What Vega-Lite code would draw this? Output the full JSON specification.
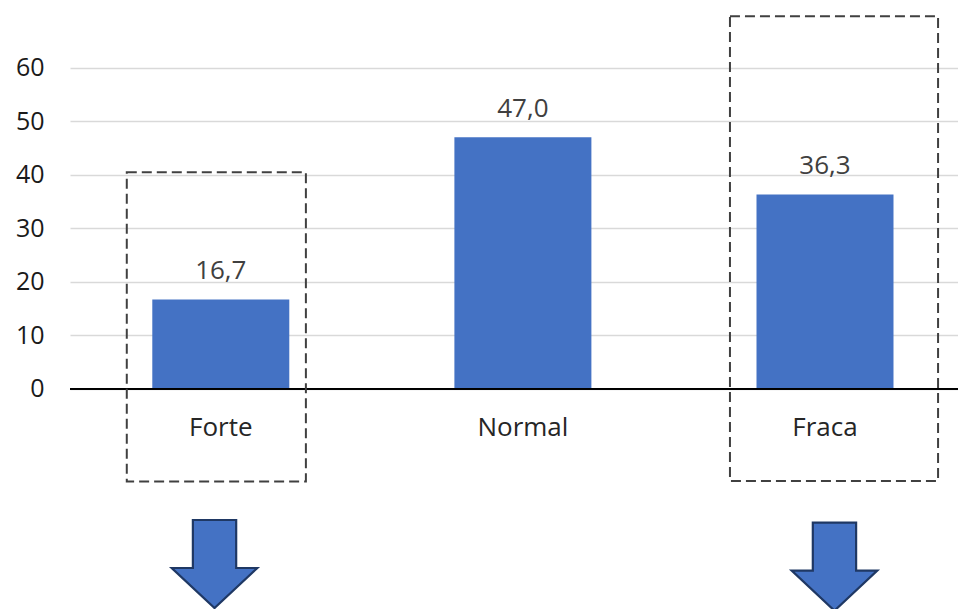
{
  "$schema": "https://vega.github.io/schema/vega-lite/v6.json",
  "width": 888,
  "height": 589,
  "padding": {"left": 70, "top": 14, "right": 0, "bottom": 6},
  "autosize": {"type": "none"},
  "background": "white",
  "config": {
    "view": {"stroke": null},
    "font": "Open Sans",
    "locale": {"number": {"decimal": ",", "thousands": ".", "grouping": [3], "currency": ["", " €"]}}
  },
  "datasets": {
    "bars": [
      {"cat": "Forte", "value": 16.7},
      {"cat": "Normal", "value": 47.0},
      {"cat": "Fraca", "value": 36.3}
    ],
    "boxes": [
      {"x1": -0.312, "x2": 0.281, "y1": -17.3, "y2": 40.43},
      {"x1": 1.685, "x2": 2.374, "y1": -17.2, "y2": 69.6}
    ],
    "arrows": [
      {"ax": -0.0215, "ay": -32.72},
      {"ax": 2.031, "ay": -33.22}
    ]
  },
  "resolve": {"scale": {"x": "independent"}},
  "layer": [
    {
      "data": {"name": "bars"},
      "layer": [
        {
          "mark": {"type": "bar", "color": "#4472C4"},
          "encoding": {
            "x": {"field": "cat", "type": "nominal", "sort": null, "axis": null,
                  "scale": {"paddingInner": 0.5465, "paddingOuter": 0.24295, "align": 0.5606, "round": false}},
            "y": {"field": "value", "type": "quantitative",
                  "scale": {"domain": [-40, 70], "nice": false, "zero": false},
                  "axis": {"values": [0, 10, 20, 30, 40, 50, 60], "domain": false, "ticks": false,
                           "labelPadding": 26, "labelFontSize": 25, "labelColor": "#1a1a1a",
                           "labelFont": "Open Sans", "grid": true, "gridColor": "#D9D9D9",
                           "gridWidth": 1.5, "title": null}}
          }
        },
        {
          "mark": {"type": "text", "baseline": "middle", "dy": -28, "fontSize": 26, "color": "#404040", "font": "Open Sans"},
          "encoding": {
            "x": {"field": "cat", "type": "nominal", "sort": null},
            "y": {"field": "value", "type": "quantitative"},
            "text": {"field": "value", "type": "quantitative", "format": ".1f"}
          }
        },
        {
          "mark": {"type": "text", "baseline": "middle", "fontSize": 26, "color": "#262626", "font": "Open Sans"},
          "encoding": {
            "x": {"field": "cat", "type": "nominal", "sort": null},
            "y": {"datum": -7.4, "type": "quantitative"},
            "text": {"field": "cat", "type": "nominal"}
          }
        },
        {
          "mark": {"type": "rule", "color": "#000000", "strokeWidth": 1.8},
          "encoding": {"y": {"datum": 0, "type": "quantitative"}}
        }
      ]
    },
    {
      "data": {"name": "boxes"},
      "mark": {"type": "rect", "fill": null, "stroke": "#404040", "strokeWidth": 2, "strokeDash": [10, 5]},
      "encoding": {
        "x": {"field": "x1", "type": "quantitative", "scale": {"domain": [-0.5, 2.44], "nice": false, "zero": false}, "axis": null},
        "x2": {"field": "x2"},
        "y": {"field": "y1", "type": "quantitative"},
        "y2": {"field": "y2"}
      }
    },
    {
      "data": {"name": "arrows"},
      "mark": {"type": "point", "filled": true, "fill": "#4472C4", "stroke": "#1F3864", "strokeWidth": 2.2, "opacity": 1, "fillOpacity": 1,
               "shape": "M-0.506,-1.028L0.506,-1.028L0.506,0.093L1,0.093L0,1.028L-1,0.093L-0.506,0.093Z",
               "size": 7327},
      "encoding": {
        "x": {"field": "ax", "type": "quantitative", "scale": {"domain": [-0.5, 2.44], "nice": false, "zero": false}, "axis": null},
        "y": {"field": "ay", "type": "quantitative"}
      }
    }
  ]
}
